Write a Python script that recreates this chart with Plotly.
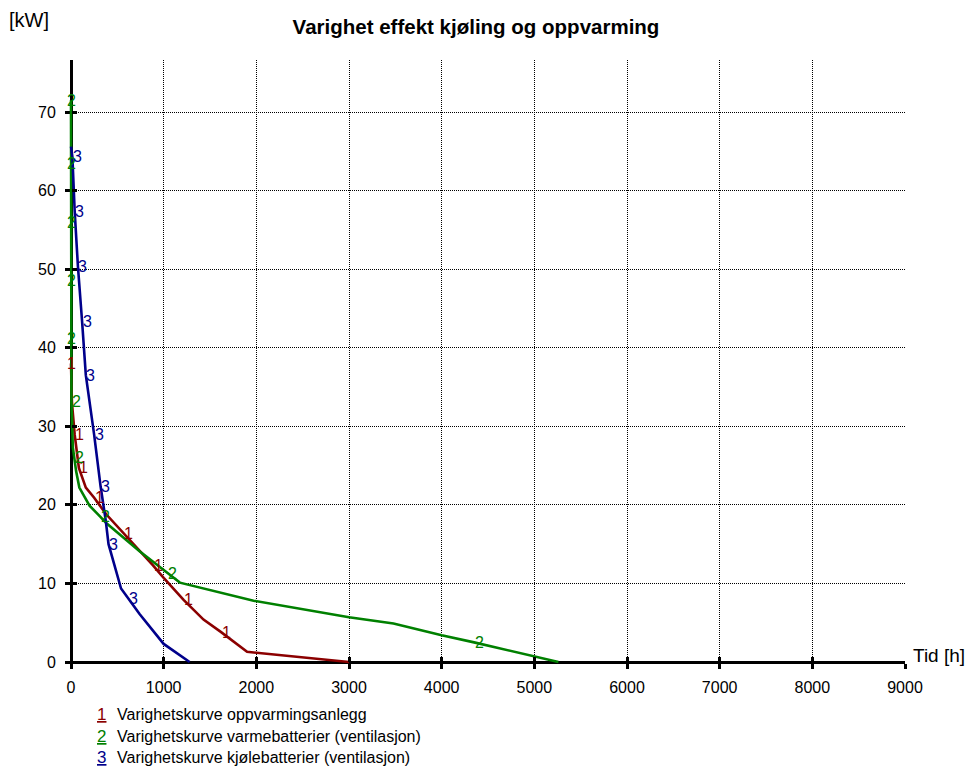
import plotly.graph_objects as go

# ---------------- data ----------------
x_ticks = [0, 1000, 2000, 3000, 4000, 5000, 6000, 7000, 8000, 9000]
y_ticks = [0, 10, 20, 30, 40, 50, 60, 70]

names = ["Varighetskurve oppvarmingsanlegg",
         "Varighetskurve varmebatterier (ventilasjon)",
         "Varighetskurve kjølebatterier (ventilasjon)"]
labels = ["1", "2", "3"]
colors = ["#8b0000", "#008000", "#00008b"]

# 1: oppvarmingsanlegg
x1 = [0, 10, 40, 85, 160, 250, 380, 570, 780, 885, 1000, 1215, 1430, 1620, 1900, 3000]
y1 = [38, 33, 28.9, 24.7, 22.2, 20.9, 18.8, 16.4, 13.7, 12.3, 10.7, 7.9, 5.4, 3.8, 1.3, 0]
lab1 = [0, 2, 3, 5, 7, 9, 11, 13]

# 2: varmebatterier
x2 = [0, 0, 0, 0, 0, 0, 5, 20, 35, 55, 90, 200, 315, 380, 740, 1045, 1175, 1970,
      2465, 3000, 3480, 4000, 4350, 5000, 5260]
y2 = [71.5, 63.4, 56, 48.6, 41.2, 35.8, 33.1, 27.3, 26, 24.3, 22.2, 19.9, 18.5, 17.7,
      14.1, 11.3, 10.1, 7.8, 6.8, 5.7, 4.9, 3.4, 2.5, 0.77, 0]
lab2 = [0, 1, 2, 3, 4, 6, 8, 12, 15, 22]

# 3: kjølebatterier
x3 = [0, 15, 40, 75, 120, 160, 250, 320, 375, 405, 540, 617, 740, 1000, 1280]
y3 = [65.6, 64.3, 57.3, 50.3, 43.3, 36.5, 28.9, 22.3, 18.0, 15.0, 9.35, 8.1, 6.1, 2.3, 0]
lab3 = [1, 2, 3, 4, 5, 6, 7, 9, 11]

series = [(x1, y1, lab1), (x2, y2, lab2), (x3, y3, lab3)]

# ---------------- layout geometry ----------------
W, H = 968, 775
ML, MR, MT, MB = 66, 63, 60, 108
PW = W - ML - MR
PH = H - MT - MB
PAD = 5
x_max = 9000
x_lo = -PAD * x_max / (PW - PAD)
y_per_px = 70 / 550
y_lo = -PAD * y_per_px
y_hi = y_lo + PH * y_per_px


def px(xp):
    return (xp - ML) / PW


def py(yp):
    return (H - MB - yp) / PH


FONT = "Arial, Liberation Sans, sans-serif"

fig = go.Figure()
annotations = []
for (xs, ys, labs), lab, col, nm in zip(series, labels, colors, names):
    fig.add_trace(go.Scatter(x=xs, y=ys, mode="lines", name=nm,
                             line=dict(color=col, width=2.6), showlegend=False))
    for i in labs:
        annotations.append(dict(x=xs[i], y=ys[i], xref="x", yref="y", text=lab,
                                showarrow=False, xanchor="center", yanchor="middle",
                                xshift=0 if xs[i] == 0 else 5,
                                font=dict(family=FONT, size=16, color=col)))

# dummy trace for overlay axes (inside tick halves)
fig.add_trace(go.Scatter(x=[None], y=[None], xaxis="x2", yaxis="y2",
                         showlegend=False, hoverinfo="skip"))

# legend built as annotations
for k, (lab, col, nm) in enumerate(zip(labels, colors, names)):
    yc = 714 + 22 * k
    annotations.append(dict(x=px(101), y=py(yc), xref="paper", yref="paper",
                            text="<u>" + lab + "</u>", showarrow=False,
                            xanchor="center", yanchor="middle",
                            font=dict(family=FONT, size=17, color=col)))
    annotations.append(dict(x=px(115), y=py(yc), xref="paper", yref="paper",
                            text=nm, showarrow=False, xanchor="left", yanchor="middle",
                            font=dict(family=FONT, size=16, color="black")))

annotations.append(dict(x=px(7), y=py(20), xref="paper", yref="paper", text="[kW]",
                        showarrow=False, xanchor="left", yanchor="middle",
                        font=dict(family=FONT, size=20, color="black")))
annotations.append(dict(x=px(911), y=py(655), xref="paper", yref="paper", text="Tid [h]",
                        showarrow=False, xanchor="left", yanchor="middle",
                        font=dict(family=FONT, size=19, color="black")))

axis_common = dict(showline=True, linecolor="black", linewidth=3,
                   ticks="outside", ticklen=5, tickwidth=3, tickcolor="black",
                   showgrid=True, gridcolor="black", griddash="1px,1px", gridwidth=1,
                   zeroline=False, layer="below traces",
                   tickfont=dict(family=FONT, size=16, color="black"))

fig.update_layout(
    width=W, height=H,
    margin=dict(l=ML, r=MR, t=MT, b=MB, pad=0),
    paper_bgcolor="white", plot_bgcolor="white",
    showlegend=False,
    title=dict(text="<b>Varighet effekt kjøling og oppvarming</b>",
               x=476 / W, xanchor="center", y=1 - 27 / H, yanchor="middle",
               xref="container", yref="container",
               font=dict(family=FONT, size=20.5, color="black")),
    xaxis=dict(range=[x_lo, x_max], tickvals=x_ticks, anchor="free",
               position=PAD / PH, ticklabelstandoff=5, **axis_common),
    yaxis=dict(range=[y_lo, y_hi], tickvals=y_ticks, anchor="free",
               position=PAD / PW, ticklabelstandoff=6, **axis_common),
    xaxis2=dict(range=[x_lo, x_max], tickvals=x_ticks, overlaying="x", anchor="free",
                position=PAD / PH, ticks="inside", ticklen=5, tickwidth=3,
                tickcolor="black", showticklabels=False, showgrid=False,
                showline=False, zeroline=False),
    yaxis2=dict(range=[y_lo, y_hi], tickvals=y_ticks, overlaying="y", anchor="free",
                position=PAD / PW, ticks="inside", ticklen=5, tickwidth=3,
                tickcolor="black", showticklabels=False, showgrid=False,
                showline=False, zeroline=False),
    annotations=annotations,
)

fig.write_html("out.html")
